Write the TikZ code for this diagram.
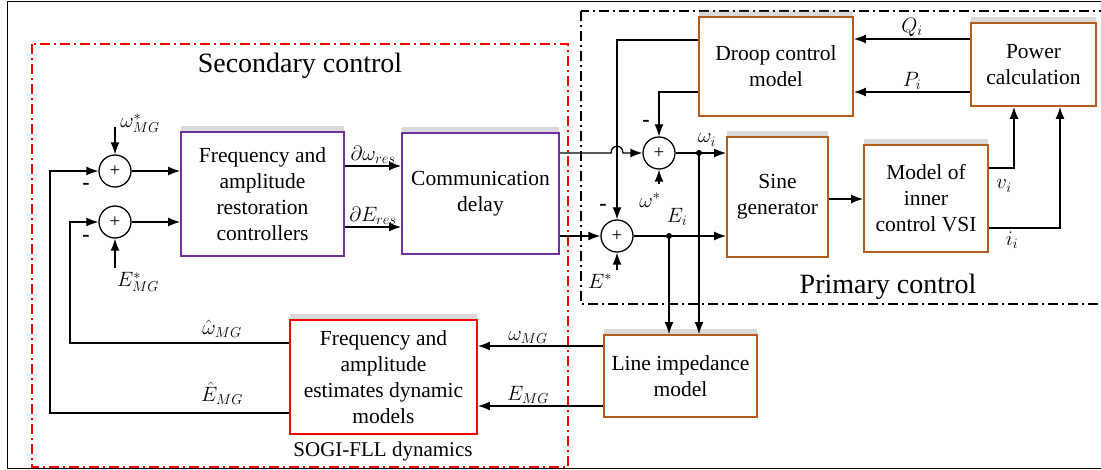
\documentclass[tikz,border=0pt]{standalone}
\usepackage{fontspec}
\setmainfont{Liberation Serif}
\usetikzlibrary{arrows.meta,shadows}
\definecolor{violetbox}{RGB}{112,48,160}
\definecolor{brownbox}{RGB}{180,92,30}
\tikzset{
  blk/.style={draw, line width=1.8pt, fill=white, align=center,
    font=\fontsize{21.5}{26}\selectfont,
    drop shadow={shadow xshift=0pt, shadow yshift=6pt, opacity=0.3, fill=gray}},
  sumnode/.style={circle, draw, line width=1.3pt, fill=white,
    minimum size=32pt, inner sep=0pt, font=\fontsize{19}{19}\selectfont},
  lbl/.style={font=\fontsize{21}{22}\selectfont, inner sep=2pt},
  minus/.style={font=\bfseries\fontsize{22}{22}\selectfont, inner sep=0pt},
  title/.style={font=\fontsize{28}{30}\selectfont, inner sep=0pt}
}
\begin{document}
\begin{tikzpicture}[x=1pt,y=-1pt,>={Latex[length=12pt,width=9pt]},line width=1.3pt]
\useasboundingbox (0,0) rectangle (1101,470);

% frames
\draw[line width=1pt] (7,2) rectangle (1112,468);
\draw[red, line width=1.2pt, dash pattern=on 10pt off 4pt on 2pt off 4pt] (32,44) rectangle (568,467);
\draw[line width=1.2pt, dash pattern=on 10pt off 4pt on 2pt off 4pt] (581,11) rectangle (1112,304);
\node[title] (sec) at (300,66) {Secondary control};
\node[title] (pri) at (888,287) {Primary control};
\node[lbl] (sogitxt) at (383,451) {SOGI-FLL dynamics};

% blocks
\node[blk, draw=violetbox, minimum width=163pt, minimum height=124pt] (frc) at (262.5,194)
{Frequency and\\amplitude\\restoration\\controllers};
\node[blk, draw=violetbox, minimum width=157pt, minimum height=121pt] (cd) at (480.5,193.5)
{Communication\\delay};
\node[blk, draw=brownbox, minimum width=154pt, minimum height=99pt] (droop) at (776,66.5)
{Droop control\\model};
\node[blk, draw=brownbox, minimum width=125pt, minimum height=83pt] (pc) at (1033.5,64.5)
{Power\\calculation};
\node[blk, draw=brownbox, minimum width=101pt, minimum height=120pt] (sine) at (777.5,197)
{Sine\\generator};
\node[blk, draw=brownbox, minimum width=124pt, minimum height=107pt] (vsi) at (926,198.5)
{Model of\\inner\\control VSI};
\node[blk, draw=brownbox, minimum width=153pt, minimum height=82pt] (lim) at (680.5,376)
{Line impedance\\model};
\node[blk, draw=red, minimum width=187pt, minimum height=114pt] (sogi) at (383.5,377)
{Frequency and\\amplitude\\estimates dynamic\\models};

% summing junctions
\node[sumnode] (s1) at (115,171) {+};
\node[sumnode] (s2) at (115,222) {+};
\node[sumnode] (s3) at (659,153) {+};
\node[sumnode] (s4) at (617,236) {+};

\coordinate (wref) at (115,127);
\coordinate (eref) at (115,268);
\coordinate (wsref) at (659,184);
\coordinate (esref) at (617,270);
\coordinate (wi) at (699,153);
\coordinate (ei) at (669,236);

% references and signs
\draw[->] (wref) -- (s1.north);
\draw[->] (eref) -- (s2.south);
\draw[->] (wsref) -- (s3.south);
\draw[->] (esref) -- (s4.south);
\node[lbl] (wrefl) at (140,123) {$\omega^{*}_{MG}$};
\node[lbl] (erefl) at (138,282) {$E^{*}_{MG}$};
\node[lbl] (wsrefl) at (650,200) {$\omega^{*}$};
\node[lbl] (esrefl) at (600,281) {$E^{*}$};
\node[minus] (m1) at (86,186) {-};
\node[minus] (m2) at (86,238) {-};
\node[minus] (m3) at (646,123) {-};
\node[minus] (m4) at (603,207) {-};

% secondary path
\draw[->] (s1) -- (frc.west |- s1);
\draw[->] (s2) -- (frc.west |- s2);
\draw[->] (frc.east |- 0,166) -- (cd.west |- 0,166) node[lbl, midway, above] {$\partial\omega_{res}$};
\draw[->] (frc.east |- 0,227) -- (cd.west |- 0,227) node[lbl, midway, above] {$\partial E_{res}$};
\draw[->] (cd.east |- s3) -- (611,153) .. controls (611,144) and (623,144) .. (623,153) -- (s3.west);
\draw[->] (cd.east |- s4) -- (s4.west);

% primary path
\draw[->] (droop.west |- 0,92) -| (s3.north);
\draw[->] (droop.west |- 0,40) -| (s4.north);
\draw[->] (pc.west |- 0,39) -- (droop.east |- 0,39) node[lbl, midway, above] {$Q_i$};
\draw[->] (pc.west |- 0,92) -- (droop.east |- 0,92) node[lbl, midway, above] {$P_i$};
\draw[->] (s3.east) -- (sine.west |- s3);
\draw[->] (s4.east) -- (sine.west |- s4);
\node[lbl] (wil) at (707,140) {$\omega_i$};
\node[lbl] (eil) at (677,217) {$E_i$};
\fill (wi) circle (3pt);
\fill (ei) circle (3pt);
\draw[->] (wi) -- (wi |- lim.north);
\draw[->] (ei) -- (ei |- lim.north);
\draw[->] (sine.east |- 0,199) -- (vsi.west |- 0,199);
\draw[->] (vsi.east |- 0,168) -| (pc.south -| 1014,0);
\draw[->] (vsi.east |- 0,228) -| (pc.south -| 1060,0);
\node[lbl] (vil) at (1004,186) {$v_i$};
\node[lbl] (iil) at (1012,240) {$i_i$};

% feedback
\draw[->] (lim.west |- 0,346) -- (sogi.east |- 0,346) node[lbl, pos=0.6, above] {$\omega_{MG}$};
\draw[->] (lim.west |- 0,406) -- (sogi.east |- 0,406) node[lbl, pos=0.6, above] {$E_{MG}$};
\draw[->] (sogi.west |- 0,343) -| (70,222) -- (s2.west);
\draw[->] (sogi.west |- 0,413) -| (50,171) -- (s1.west);
\node[lbl] (whl) at (222,329) {$\hat{\omega}_{MG}$};
\node[lbl] (ehl) at (222,393) {$\hat{E}_{MG}$};
\end{tikzpicture}
\end{document}
